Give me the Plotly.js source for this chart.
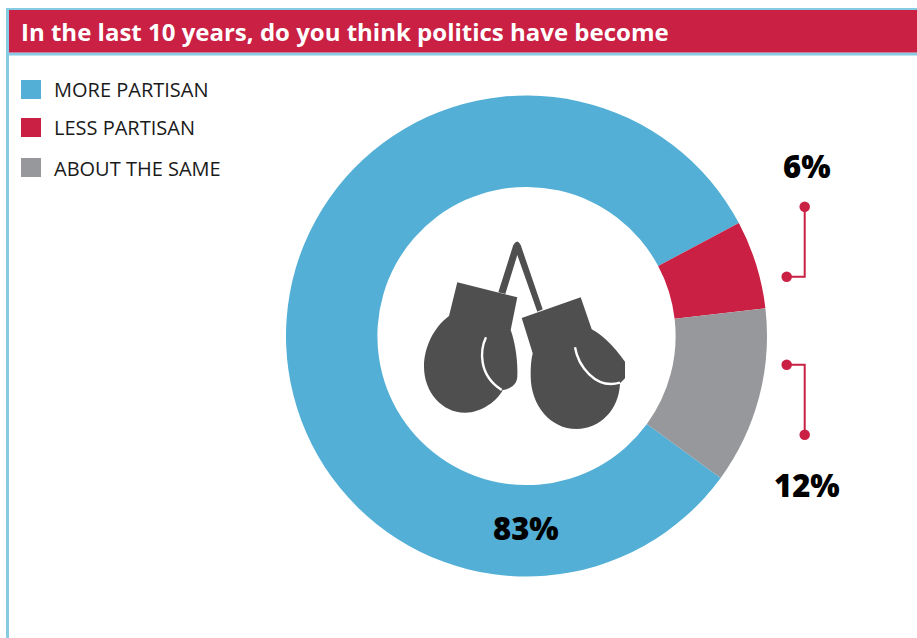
<!DOCTYPE html>
<html>
<head>
<meta charset="utf-8">
<script src="https://cdn.plot.ly/plotly-3.0.1.min.js"></script>
<style>html,body{margin:0;padding:0;background:#fff;overflow:hidden}#chart{width:917px;height:638px}</style>
</head>
<body>
<div id="chart"></div>
<script>
const titleText = 'In the last 10 years, do you think politics have become';
const categories = ['MORE PARTISAN', 'LESS PARTISAN', 'ABOUT THE SAME'];
const shares = [83, 6, 12];
const colours = ['#53AFD6', '#C92044', '#97989B'];

const RED = colours[1], FRAME = '#87CAE3', ICON = '#4F4F4F';
const W = 917, H = 638;

// Outer slice edge is at 62 degrees clockwise from the top, where LESS PARTISAN begins
const moreShareDeg = shares[0] / shares.reduce((a, b) => a + b, 0) * 360;
const rotation = 62 - moreShareDeg;

// Ring sits at (526.5, 336) with a radius of 240.5; axes below run in page pixels
const ring = {
  type: 'pie', values: shares, labels: categories, sort: false, direction: 'clockwise',
  rotation: rotation, hole: 0.62, textinfo: 'none', hoverinfo: 'label+value',
  marker: {colors: colours, line: {width: 0}},
  domain: {x: [286 / W, 767 / W], y: [1 - 576.5 / H, 1 - 95.5 / H]},
  showlegend: false
};

// Bracket leaders beside the ring
const leader = (xs, ys) => ({
  type: 'scatter', mode: 'lines', x: xs, y: ys, xaxis: 'x', yaxis: 'y',
  line: {color: RED, width: 2}, hoverinfo: 'skip', showlegend: false
});
const dots = (xs, ys) => ({
  type: 'scatter', mode: 'markers', x: xs, y: ys, xaxis: 'x', yaxis: 'y',
  marker: {color: RED, size: 10.5, line: {width: 0}}, hoverinfo: 'skip', showlegend: false
});
const traces = [
  ring,
  leader([804.7, 804.7, 786.7], [206.7, 276.7, 276.7]),
  leader([786.7, 804.7, 804.7], [364.7, 364.7, 434.7]),
  dots([804.7, 786.7, 786.7, 804.7], [206.7, 276.7, 364.7, 434.7])
];

const rect = (x0, y0, x1, y1, fill) => ({
  type: 'rect', xref: 'x', yref: 'y', x0, y0, x1, y1, fillcolor: fill, line: {width: 0}, layer: 'below'
});
const glyph = (path, fill) => ({
  type: 'path', xref: 'x', yref: 'y', path, fillcolor: fill, line: {width: 0}, layer: 'above'
});
const stroke = (path) => ({
  type: 'path', xref: 'x', yref: 'y', path, line: {color: '#FFFFFF', width: 2.4}, layer: 'above'
});

const legendTop = [80, 118, 158];
const legendMid = [89, 127.5, 168.5];

const shapes = [
  // Frame and header band
  rect(6, 8, W, 10, FRAME),
  rect(6, 8, 9, H, FRAME),
  rect(9, 52.5, W, 55.5, FRAME),
  rect(9, 10, W, 52.5, RED),
  // Legend swatches
  ...legendTop.map((y, i) => rect(21, y, 41, y + 19, colours[i])),
  // Boxing gloves hanging from a strap
  glyph('M498.3,292.3 L513.3,245 Q517.3,238 520.7,245 L542.7,309.3 L537.3,311.7 L517.3,255 L505.3,294 Z', ICON),
  glyph('M457.3,282.3 L517.3,297.3 L510.7,330 C515,342 518,360 517.3,376.7 C517,384 511,389 502.7,390 C498,400 482,412.7 465,412.7 C442,412.7 424,392 424,366.7 C424,347 434,327 449,316 Z', ICON),
  glyph('M521.7,318 L580.7,297.3 L591.7,329.3 C602,335 613,345 625,361.7 L625,378.3 L620,383.3 C619,410 600,429 576.7,429 C550,429 531,405 530.7,376.7 C530.5,368 531,360 532.7,353.3 Z', ICON),
  stroke('M486,337.3 C480,350 478,375 501.7,390'),
  stroke('M575,347.3 C578,365 595,390 620,382.7')
];

const valueLabelAt = [[526, 527.5], [807, 166], [807, 484.5]];
const annotations = [
  ...categories.map((c, i) => ({
    xref: 'x', yref: 'y', x: 52, y: legendMid[i], text: c, showarrow: false,
    xanchor: 'left', yanchor: 'middle',
    font: {family: '"Open Sans", sans-serif', size: 20, color: '#1A1A1A'}
  })),
  ...shares.map((v, i) => ({
    xref: 'x', yref: 'y', x: valueLabelAt[i][0], y: valueLabelAt[i][1], text: v + '%',
    showarrow: false, xanchor: 'center', yanchor: 'middle',
    font: {family: '"Open Sans", sans-serif', size: 31, weight: 800, color: '#000000'}
  }))
];

const hiddenAxis = (range) => ({
  range, visible: false, fixedrange: true, showgrid: false, zeroline: false, domain: [0, 1]
});

const layout = {
  width: W, height: H, margin: {l: 0, r: 0, t: 0, b: 0},
  paper_bgcolor: '#FFFFFF', plot_bgcolor: 'rgba(0,0,0,0)',
  title: {
    text: '<b>' + titleText + '</b>', x: 21 / W, xanchor: 'left', xref: 'paper',
    y: 1 - 32.5 / H, yanchor: 'middle', yref: 'container',
    font: {family: '"Open Sans", sans-serif', size: 24, color: '#FFFFFF'}
  },
  xaxis: hiddenAxis([0, W]),
  yaxis: hiddenAxis([H, 0]),
  shapes, annotations, showlegend: false
};

Plotly.newPlot('chart', traces, layout, {displayModeBar: false, staticPlot: true});
</script>
</body>
</html>
